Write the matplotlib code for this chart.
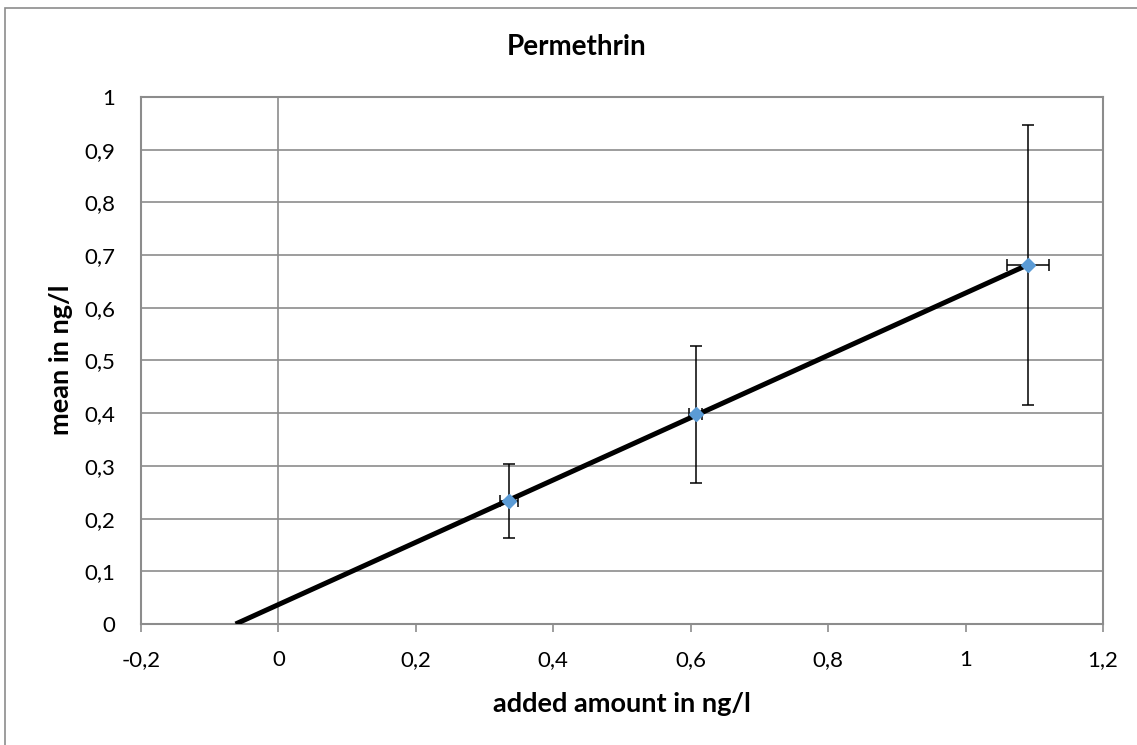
"""Permethrin recovery: mean vs added amount with linear trend."""

import matplotlib.pyplot as plt
import numpy as np
from matplotlib.patches import Rectangle
from matplotlib.ticker import FuncFormatter, MultipleLocator

# data
added = [0.336, 0.607, 1.091]
mean = [0.234, 0.398, 0.681]
added_err = [0.013, 0.010, 0.030]
mean_err = [0.070, 0.130, 0.266]

title = "Permethrin"
xlabel = "added amount in ng/l"
ylabel = "mean in ng/l"

GRID = '#8c8c8c'
BLUE = '#5b9bd5'

plt.rcParams['font.family'] = ['Lato', 'DejaVu Sans']


def comma(v, pos):
    s = "{:g}".format(round(v, 2))
    return s.replace('.', ',')


fig = plt.figure(figsize=(11.37, 7.45), dpi=100, facecolor='white')

# outer chart frame (only left/top edge visible in the crop)
fig.patches.append(Rectangle((5 / 1137, -0.1), 1.2, (745 - 8) / 745 + 0.1,
                             transform=fig.transFigure, fill=False,
                             edgecolor=GRID, linewidth=1.2))
# cut-off text above the frame
fig.text(116 / 1137, 1 + 4 / 745, "y", fontsize=18, fontweight='bold',
         ha='center', va='baseline')

ax = fig.add_axes([141 / 1137, 1 - 624 / 745, (1103 - 141) / 1137, (624 - 97) / 745])
ax.set_xlim(-0.2, 1.2)
ax.set_ylim(0, 1)

ax.xaxis.set_major_locator(MultipleLocator(0.2))
ax.yaxis.set_major_locator(MultipleLocator(0.1))
ax.xaxis.set_major_formatter(FuncFormatter(comma))
ax.yaxis.set_major_formatter(FuncFormatter(comma))

ax.yaxis.grid(True, color=GRID, linewidth=1.2)
ax.set_axisbelow(True)
ax.axvline(0, color=GRID, linewidth=1.2, zorder=0.5)
for s in ax.spines.values():
    s.set_color(GRID)
    s.set_linewidth(1.5)

ax.tick_params(axis='x', length=6, width=1.2, color=GRID, pad=13, labelsize=16)
ax.tick_params(axis='y', length=0, pad=18.5, labelsize=16)

# linear trend, extended back to the x axis
k, d = np.polyfit(added, mean, 1)
x0 = -d / k
tx = np.array([x0, max(added)])
ax.plot(tx, k * tx + d, color='black', linewidth=3.6, solid_capstyle='butt', zorder=3)

ax.errorbar(added, mean, xerr=added_err, yerr=mean_err, fmt='D', color=BLUE,
            markersize=7.5, ecolor='black', elinewidth=1.1, capsize=4.5,
            capthick=1.1, zorder=4)

fig.text(577 / 1137, 1 - 47 / 745, title, fontsize=20, fontweight='bold',
         ha='center', va='center')
ax.set_xlabel(xlabel, fontsize=19.5, fontweight='bold')
ax.set_ylabel(ylabel, fontsize=19.5, fontweight='bold')
ax.xaxis.set_label_coords(0.5, (624 - 692) / 527)
ax.yaxis.set_label_coords((73 - 141) / 962, (624 - 360) / 527)

fig.savefig('out.png', dpi=100)
